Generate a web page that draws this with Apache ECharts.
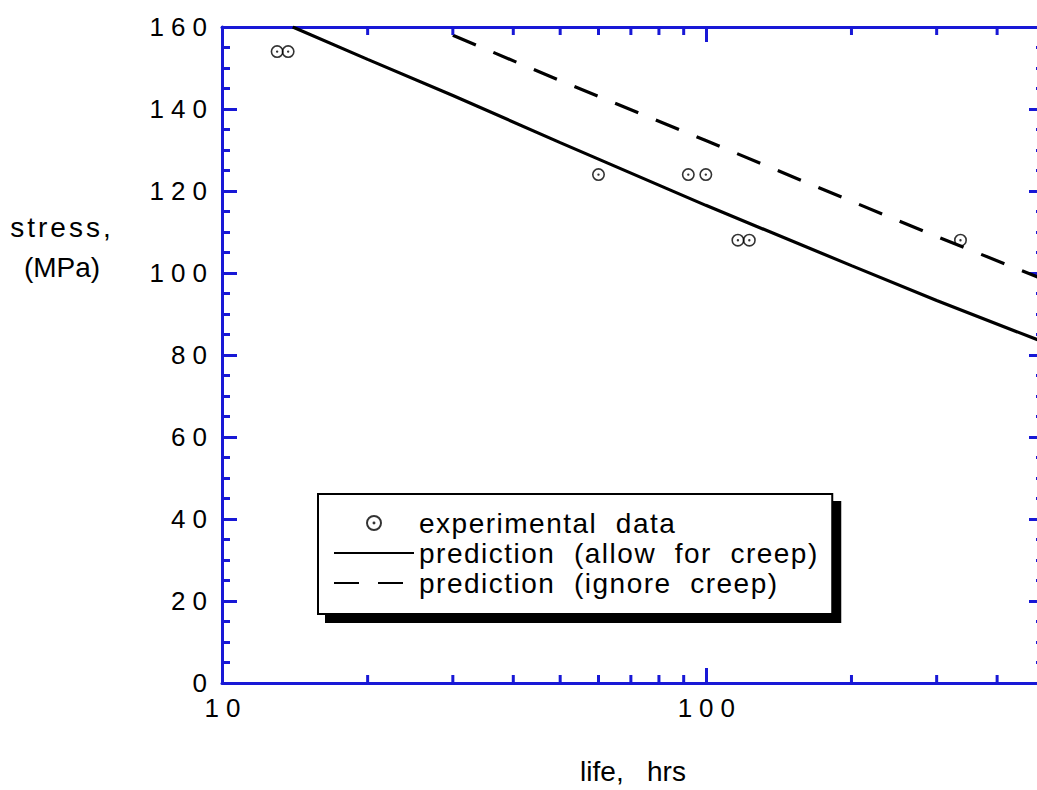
<!DOCTYPE html>
<html>
<head>
<meta charset="utf-8">
<title>stress vs life</title>
<script src="https://cdn.jsdelivr.net/npm/echarts@6/dist/echarts.min.js"></script>
<style>
  html, body { margin: 0; padding: 0; overflow: hidden; background: #fff; }
  #chart { width: 1060px; height: 790px; }
  #chart text { white-space: pre; }
</style>
</head>
<body>
<div id="chart"></div>
<script>
// Measured rupture lives (hrs) and applied stresses (MPa)
const lifeExp   = [13.0, 13.7, 60, 92, 100, 116.5, 123, 336];
const stressExp = [154, 154, 124, 124, 124, 108, 108, 108];

// Predicted stress–life curve, creep allowed for
const lifeCreep   = [14, 20, 30, 50, 100, 200, 300, 500];
const stressCreep = [160, 152.1, 143.3, 131.8, 116.5, 101.8, 93.3, 83.1];

// Predicted stress–life curve, creep ignored
const lifeNoCreep   = [30, 50, 100, 200, 300, 500];
const stressNoCreep = [158.0, 146.9, 132.3, 117.5, 108.9, 98.4];

// Axis ranges and minor tick positions on the log life axis
const lifeRange = [10, 500];
const stressRange = [0, 160];
const stressStep = 20;
const lifeMinorTicks = [20, 30, 40, 50, 60, 70, 80, 90, 200, 300, 400];

const seriesNames = ['experimental  data', 'prediction  (allow  for  creep)', 'prediction  (ignore  creep)'];

const BLUE = '#1818d6';
const FONT = 'Liberation Sans, Arial, Helvetica, sans-serif';

// ring with a centre dot
const DOT_RING = 'path://M13,0A13,13 0 1,1 13,26A13,13 0 1,1 13,0Z' +
  'M13,3.2A9.8,9.8 0 1,0 13,22.8A9.8,9.8 0 1,0 13,3.2Z' +
  'M13,10.6A2.4,2.4 0 1,1 13,15.4A2.4,2.4 0 1,1 13,10.6Z';

const pairs = (xs, ys) => xs.map((x, i) => [x, ys[i]]);

const axisLine = { show: true, onZero: false, lineStyle: { color: BLUE, width: 3 } };
const majorTick = { show: true, inside: true, length: 15, lineStyle: { color: BLUE, width: 3 } };
const minorTickY = { show: true, splitNumber: 4, length: 8, lineStyle: { color: BLUE, width: 3 } };

const chart = echarts.init(document.getElementById('chart'), null, { renderer: 'svg' });

// character spacing for tick labels, the stress title and the legend
chart.on('finished', () => {
  document.querySelectorAll('#chart text').forEach(t => {
    const s = t.textContent;
    if (/^\d+$/.test(s)) t.style.letterSpacing = '7px';
    else if (s === 'stress,') t.style.letterSpacing = '3px';
    else if (seriesNames.indexOf(s) > -1) t.style.letterSpacing = '1.5px';
  });
});

chart.setOption({
  animation: false,
  backgroundColor: '#ffffff',
  textStyle: { fontFamily: FONT },
  grid: { left: 222, top: 27, width: 822, height: 657 },
  xAxis: [
    {
      type: 'log', logBase: 10, min: lifeRange[0], max: lifeRange[1], position: 'bottom',
      axisLine: axisLine, axisTick: majorTick, splitLine: { show: false },
      axisLabel: {
        show: true, margin: 14, color: '#000', fontSize: 26, fontFamily: FONT,
        showMaxLabel: false, padding: [0, 0, 0, 8], lineHeight: 22
      },
      name: 'life,   hrs', nameLocation: 'middle', nameGap: 74,
      nameTextStyle: { color: '#000', fontSize: 28, fontFamily: FONT }
    },
    {
      type: 'log', logBase: 10, min: lifeRange[0], max: lifeRange[1], position: 'top',
      axisLine: axisLine, axisTick: majorTick, splitLine: { show: false },
      axisLabel: { show: false }
    }
  ],
  yAxis: [
    {
      type: 'value', min: stressRange[0], max: stressRange[1], interval: stressStep, position: 'left',
      axisLine: axisLine, axisTick: majorTick, minorTick: minorTickY, splitLine: { show: false },
      axisLabel: { margin: 8, color: '#000', fontSize: 26, fontFamily: FONT, lineHeight: 20 }
    },
    {
      type: 'value', min: stressRange[0], max: stressRange[1], interval: stressStep, position: 'right',
      axisLine: axisLine, axisTick: majorTick, minorTick: minorTickY, splitLine: { show: false },
      axisLabel: { show: false }
    }
  ],
  graphic: [
    {
      type: 'text', x: 62, y: 247, silent: true,
      style: {
        text: 'stress,\n(MPa)', textAlign: 'center', textVerticalAlign: 'middle',
        fontSize: 28, fontFamily: FONT, lineHeight: 40, fill: '#000'
      }
    }
  ],
  legend: {
    orient: 'vertical', left: 318, top: 494,
    data: [
      { name: seriesNames[0] },
      { name: seriesNames[1], itemStyle: { opacity: 0 } },
      { name: seriesNames[2], itemStyle: { opacity: 0 } }
    ],
    selectedMode: false,
    itemWidth: 80, itemHeight: 16, itemGap: 0, itemTextGap: 12,
    padding: [14, 60, 16, 15],
    backgroundColor: '#ffffff', borderColor: '#000', borderWidth: 2,
    shadowColor: '#000', shadowBlur: 0, shadowOffsetX: 8, shadowOffsetY: 8,
    textStyle: { color: '#000', fontSize: 28, fontFamily: FONT, lineHeight: 30 }
  },
  series: [
    {
      name: seriesNames[0], type: 'scatter', z: 5,
      symbol: DOT_RING, symbolSize: 13,
      itemStyle: { color: '#000' },
      data: pairs(lifeExp, stressExp)
    },
    {
      name: seriesNames[1], type: 'line', symbol: 'none', showSymbol: false, z: 3,
      lineStyle: { color: '#000', width: 3.2, type: 'solid' },
      itemStyle: { color: '#000' },
      data: pairs(lifeCreep, stressCreep)
    },
    {
      name: seriesNames[2], type: 'line', symbol: 'none', showSymbol: false, z: 3,
      lineStyle: { color: '#000', width: 3.2, type: [25, 19], cap: 'butt' },
      itemStyle: { color: '#000' },
      data: pairs(lifeNoCreep, stressNoCreep)
    },
    {
      // minor ticks of the log axis, bottom and top edges
      name: 'minorTicks', type: 'custom', silent: true, z: 4, clip: false,
      data: lifeMinorTicks.map(v => [v, stressRange[0]]),
      renderItem(params, api) {
        const v = api.value(0);
        const b = api.coord([v, stressRange[0]]);
        const t = api.coord([v, stressRange[1]]);
        const st = { stroke: BLUE, lineWidth: 3 };
        return {
          type: 'group',
          children: [
            { type: 'line', shape: { x1: b[0], y1: b[1] + 2, x2: b[0], y2: b[1] - 8 }, style: st },
            { type: 'line', shape: { x1: t[0], y1: t[1], x2: t[0], y2: t[1] + 8 }, style: st }
          ]
        };
      }
    }
  ]
});
</script>
</body>
</html>
